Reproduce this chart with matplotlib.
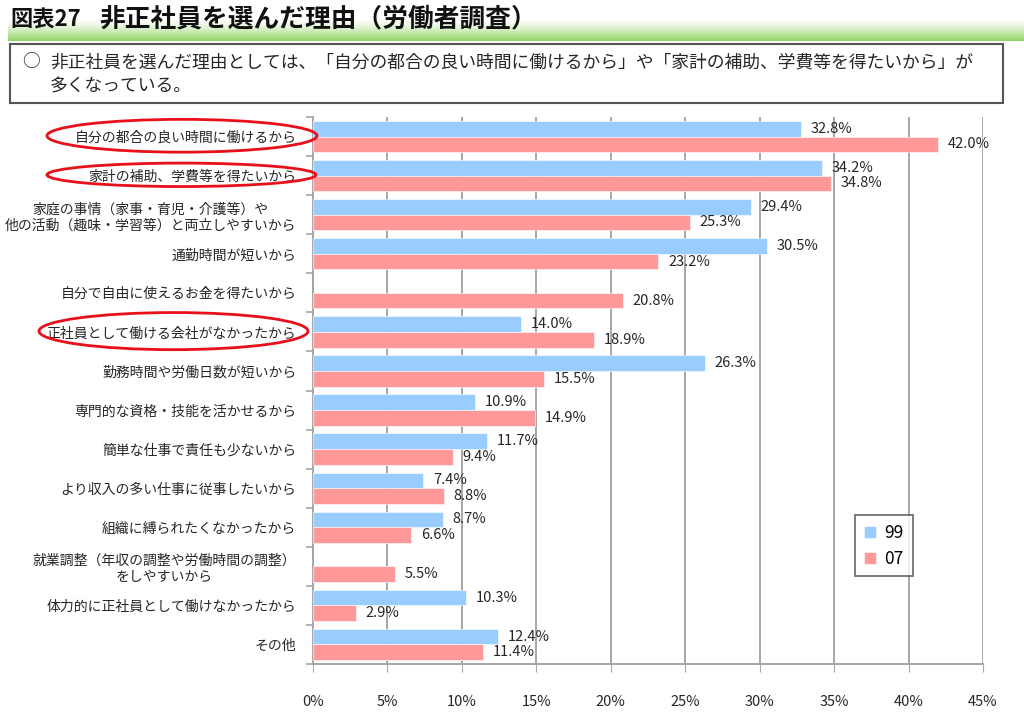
##
## === DEPENDENCIES
##

import matplotlib
matplotlib.use("Agg")
import matplotlib.pyplot as plt
from matplotlib.patches import Ellipse, Rectangle
import numpy

##
## === DATA
##

CATEGORIES = [
    "自分の都合の良い時間に働けるから",
    "家計の補助、学費等を得たいから",
    "家庭の事情（家事・育児・介護等）や\n他の活動（趣味・学習等）と両立しやすいから",
    "通勤時間が短いから",
    "自分で自由に使えるお金を得たいから",
    "正社員として働ける会社がなかったから",
    "勤務時間や労働日数が短いから",
    "専門的な資格・技能を活かせるから",
    "簡単な仕事で責任も少ないから",
    "より収入の多い仕事に従事したいから",
    "組織に縛られたくなかったから",
    "就業調整（年収の調整や労働時間の調整）\nをしやすいから",
    "体力的に正社員として働けなかったから",
    "その他",
]
VALUES_99 = [32.8, 34.2, 29.4, 30.5, None, 14.0, 26.3, 10.9, 11.7, 7.4, 8.7, None, 10.3, 12.4]
VALUES_07 = [42.0, 34.8, 25.3, 23.2, 20.8, 18.9, 15.5, 14.9, 9.4, 8.8, 6.6, 5.5, 2.9, 11.4]
SERIES_NAMES = ["99", "07"]
X_TICKS = [0, 5, 10, 15, 20, 25, 30, 35, 40, 45]
HIGHLIGHTED = [0, 1, 5]

TITLE_NUMBER = "図表27"
TITLE = "非正社員を選んだ理由（労働者調査）"
NOTE_LINE_1 = "非正社員を選んだ理由としては、「自分の都合の良い時間に働けるから」や「家計の補助、学費等を得たいから」が"
NOTE_LINE_2 = "多くなっている。"

##
## === STYLE
##

BLUE = "#99CCFF"
PINK = "#FF9999"
GRID = "#A6A6A6"
TEXT = "#262626"
## ellipse extents around highlighted labels, in pixels left/right of the y axis, and height
ELLIPSE_SIZES = [(-266, 4, 0.84), (-266, 3, 0.6), (-274, -5, 0.95)]

plt.rcParams["font.family"] = ["Noto Sans CJK JP", "DejaVu Sans"]


def main() -> None:
    fig = plt.figure(figsize=(10.24, 7.24), dpi=100)

    ## title band with a green gradient
    band = fig.add_axes([8 / 1024, 1 - 41 / 724, 1 - 8 / 1024, 22 / 724])
    grad = numpy.linspace(0, 1, 64).reshape(-1, 1)
    top = numpy.array([1.0, 1.0, 1.0])
    bottom = numpy.array([0x92, 0xD4, 0x62]) / 255
    img = top + (bottom - top) * grad[..., None] ** 1.3
    band.imshow(img, aspect="auto", extent=[0, 1, 0, 1], origin="upper")
    band.set_axis_off()
    fig.text(10 / 1024, 1 - 19 / 724, TITLE_NUMBER, fontsize=16, fontweight="bold",
             color="#111111", va="center", ha="left")
    fig.text(99 / 1024, 1 - 19 / 724, TITLE, fontsize=18.5, fontweight="bold",
             color="#111111", va="center", ha="left")

    ## note box
    fig.add_artist(Rectangle((10 / 1024, 1 - 103 / 724), 993 / 1024, 59 / 724,
                             transform=fig.transFigure, fill=False,
                             edgecolor="#555555", linewidth=1.5))
    fig.text(22 / 1024, 1 - 62 / 724, "○", fontsize=12.8, color=TEXT, va="center")
    fig.text(50 / 1024, 1 - 62 / 724, NOTE_LINE_1, fontsize=12.8, color=TEXT, va="center")
    fig.text(50 / 1024, 1 - 86 / 724, NOTE_LINE_2, fontsize=12.8, color=TEXT, va="center")

    ## chart
    ax = fig.add_axes([313 / 1024, 1 - 664 / 724, 670 / 1024, 547 / 724])
    n = len(CATEGORIES)
    y = numpy.arange(n)
    h = 0.4
    for vals, off, color, name in [
        (VALUES_99, -h / 2, BLUE, SERIES_NAMES[0]),
        (VALUES_07, h / 2, PINK, SERIES_NAMES[1]),
    ]:
        idx = [i for i, v in enumerate(vals) if v is not None]
        widths = [vals[i] for i in idx]
        bars = ax.barh(y[idx] + off, widths, height=h, color=color,
                       edgecolor="white", linewidth=0.4, label=name, zorder=3)
        ax.bar_label(bars, labels=[f"{v:.1f}%" for v in widths], padding=7,
                     fontsize=10.5, color=TEXT)

    ax.set_xlim(0, 45)
    ax.set_ylim(n - 0.5, -0.5)
    ax.set_xticks(X_TICKS)
    ax.set_xticklabels([f"{t}%" for t in X_TICKS], fontsize=10.5, color=TEXT)
    ax.tick_params(axis="x", length=6, color=GRID, pad=16)
    ax.set_yticks(y)
    ax.set_yticklabels(CATEGORIES, fontsize=10, color=TEXT, multialignment="center")
    ax.tick_params(axis="y", length=0, pad=12)
    ax.set_yticks(numpy.arange(-0.5, n, 1.0), minor=True)
    ax.tick_params(axis="y", which="minor", length=5, color=GRID, width=1.2)
    ax.grid(axis="x", color=GRID, linewidth=1.4, zorder=0)
    for side in ["top", "right"]:
        ax.spines[side].set_visible(False)
    for side in ["left", "bottom"]:
        ax.spines[side].set_color(GRID)
        ax.spines[side].set_linewidth(1.4)

    ## red ellipses around highlighted labels
    px = 670 / 45
    for i, (left, right, hh) in zip(HIGHLIGHTED, ELLIPSE_SIZES):
        cx = (left + right) / 2 / px
        w = (right - left) / px
        ax.add_patch(Ellipse((cx, i - 0.02), w, hh, fill=False, edgecolor="#E8101A",
                             linewidth=2, clip_on=False, zorder=5))

    leg = ax.legend(loc="upper left", bbox_to_anchor=(0.809, 0.272), fontsize=12.5,
                    frameon=True, fancybox=False, edgecolor="#404040",
                    handlelength=0.7, handleheight=0.7, handletextpad=0.5,
                    borderpad=0.5, labelspacing=0.45, borderaxespad=0)
    leg.get_frame().set_linewidth(1.2)

    fig.savefig("out.png", dpi=100)


if __name__ == "__main__":
    main()
